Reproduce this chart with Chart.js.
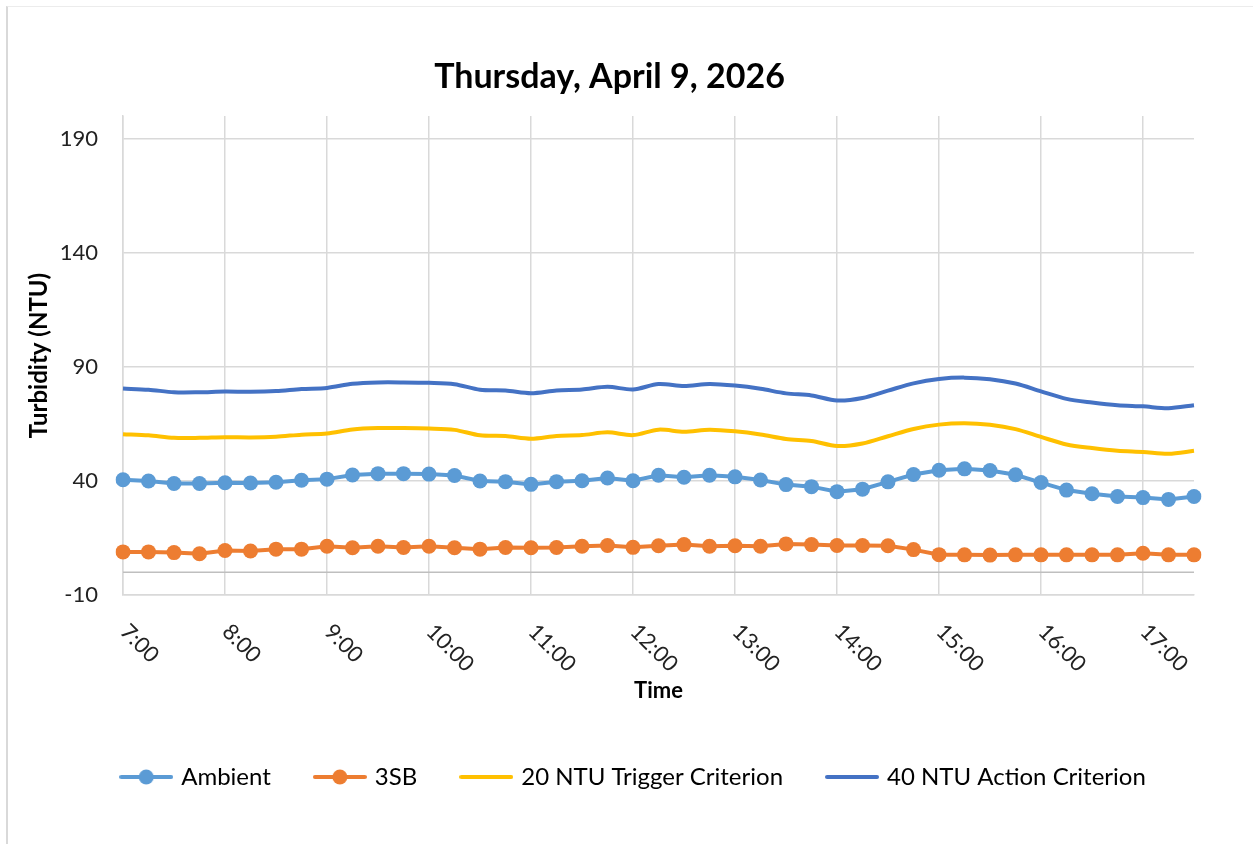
<!DOCTYPE html>
<html>
<head>
<meta charset="utf-8">
<script src="https://cdn.jsdelivr.net/npm/chart.js@4.4.1/dist/chart.umd.min.js"></script>
<style>
  html, body { margin: 0; padding: 0; background: #fff; }
  #wrap { position: relative; width: 1253px; height: 844px; }
  #frame { position: absolute; left: 6px; top: 6px; right: 0; bottom: 0;
           border-left: 2px solid #d9d9d9; border-top: 1px solid #ececec; }
  canvas { position: absolute; left: 0; top: 0; }
</style>
</head>
<body>
<div id="wrap">
  <div id="frame"></div>
  <canvas id="chartTurbidity" width="1253" height="844"></canvas>
</div>
<script>
const COLORS = {
  ambient: "#5B9BD5",
  sb3: "#ED7D31",
  trigger: "#FFC000",
  action: "#4472C4",
  grid: "#d9d9d9",
  axis: "#bfbfbf",
  text: "#222222",
};

const timeLabels = [
  "7:00", "7:15", "7:30", "7:45", "8:00", "8:15", "8:30", "8:45",
  "9:00", "9:15", "9:30", "9:45", "10:00", "10:15", "10:30", "10:45",
  "11:00", "11:15", "11:30", "11:45", "12:00", "12:15", "12:30", "12:45",
  "13:00", "13:15", "13:30", "13:45", "14:00", "14:15", "14:30", "14:45",
  "15:00", "15:15", "15:30", "15:45", "16:00", "16:15", "16:30", "16:45",
  "17:00", "17:15", "17:30"
];

const ambient = [
  40.5, 40.0, 38.9, 38.9, 39.2, 39.1, 39.4, 40.3, 40.8, 42.6, 43.2, 43.2,
  43.0, 42.4, 40.0, 39.7, 38.5, 39.7, 40.1, 41.3, 40.1, 42.5, 41.6, 42.5,
  41.8, 40.4, 38.4, 37.5, 35.3, 36.4, 39.6, 42.8, 44.7, 45.3, 44.6, 42.7,
  39.3, 36.0, 34.4, 33.2, 32.7, 31.9, 33.2
];

const sb3 = [
  8.9, 8.9, 8.6, 8.1, 9.5, 9.3, 10.1, 10.1, 11.4, 10.7, 11.4, 10.8,
  11.4, 10.7, 10.1, 10.8, 10.7, 10.8, 11.4, 11.7, 10.9, 11.6, 12.1, 11.4,
  11.6, 11.4, 12.4, 12.1, 11.7, 11.7, 11.6, 9.9, 7.7, 7.6, 7.5, 7.6,
  7.6, 7.6, 7.6, 7.6, 8.3, 7.6, 7.6
];

const triggerCriterion = [
  60.5, 60.0, 58.9, 58.9, 59.2, 59.1, 59.4, 60.3, 60.8, 62.6, 63.2, 63.2,
  63.0, 62.4, 60.0, 59.7, 58.5, 59.7, 60.1, 61.3, 60.1, 62.5, 61.6, 62.5,
  61.8, 60.4, 58.4, 57.5, 55.3, 56.4, 59.6, 62.8, 64.7, 65.3, 64.6, 62.7,
  59.3, 56.0, 54.4, 53.2, 52.7, 51.9, 53.2
];

const actionCriterion = [
  80.5, 80.0, 78.9, 78.9, 79.2, 79.1, 79.4, 80.3, 80.8, 82.6, 83.2, 83.2,
  83.0, 82.4, 80.0, 79.7, 78.5, 79.7, 80.1, 81.3, 80.1, 82.5, 81.6, 82.5,
  81.8, 80.4, 78.4, 77.5, 75.3, 76.4, 79.6, 82.8, 84.7, 85.3, 84.6, 82.7,
  79.3, 76.0, 74.4, 73.2, 72.7, 71.9, 73.2
];

const yTickValues = [-10, 40, 90, 140, 190];
const FONT = "Lato, 'Open Sans', sans-serif";

// little line+dot images for the legend
function legendSwatch(color, withDot) {
  const c = document.createElement("canvas");
  c.width = 54; c.height = 18;
  const g = c.getContext("2d");
  g.strokeStyle = color;
  g.lineWidth = 4;
  g.lineCap = "round";
  g.beginPath(); g.moveTo(2, 9); g.lineTo(52, 9); g.stroke();
  if (withDot) {
    g.fillStyle = color;
    g.beginPath(); g.arc(27, 9, 7.5, 0, Math.PI * 2); g.fill();
  }
  return c;
}

const swatches = [
  legendSwatch(COLORS.ambient, true),
  legendSwatch(COLORS.sb3, true),
  legendSwatch(COLORS.trigger, false),
  legendSwatch(COLORS.action, false),
];

// zero axis line + slanted hour labels, Excel style
const excelAxisPlugin = {
  id: "excelAxis",
  beforeDatasetsDraw(chart) {
    const { ctx, chartArea, scales } = chart;
    const y0 = scales.y.getPixelForValue(0);
    ctx.save();
    ctx.strokeStyle = COLORS.axis;
    ctx.lineWidth = 1.5;
    ctx.beginPath();
    ctx.moveTo(chartArea.left, y0);
    ctx.lineTo(chartArea.right, y0);
    ctx.stroke();
    ctx.restore();
  },
  afterDraw(chart) {
    const { ctx, chartArea, scales } = chart;
    ctx.save();
    ctx.font = "22px " + FONT;
    ctx.fillStyle = COLORS.text;
    ctx.textAlign = "left";
    ctx.textBaseline = "middle";
    timeLabels.forEach((lab, i) => {
      if (i % 4 !== 0) return;
      const x = scales.x.getPixelForValue(i);
      ctx.save();
      ctx.translate(x + 1, chartArea.bottom + 33);
      ctx.rotate(Math.PI / 4);
      ctx.fillText(lab, 0, 0);
      ctx.restore();
    });
    ctx.restore();
  },
  beforeDraw(chart) {
    if (chart.legend) {
      chart.legend.left = 75;
    }
  }
};

const canvas = document.getElementById("chartTurbidity");
new Chart(canvas, {
  type: "line",
  data: {
    labels: timeLabels,
    datasets: [
      { label: "Ambient", data: ambient, borderColor: COLORS.ambient, backgroundColor: COLORS.ambient,
        borderWidth: 4, pointRadius: 7.5, pointHoverRadius: 7.5, pointBorderWidth: 0, tension: 0, pointStyle: "circle" },
      { label: "3SB", data: sb3, borderColor: COLORS.sb3, backgroundColor: COLORS.sb3,
        borderWidth: 4, pointRadius: 7.5, pointHoverRadius: 7.5, pointBorderWidth: 0, tension: 0, pointStyle: "circle" },
      { label: "20 NTU Trigger Criterion", data: triggerCriterion, borderColor: COLORS.trigger, backgroundColor: COLORS.trigger,
        borderWidth: 4, pointRadius: 0, tension: 0.3 },
      { label: "40 NTU Action Criterion", data: actionCriterion, borderColor: COLORS.action, backgroundColor: COLORS.action,
        borderWidth: 4, pointRadius: 0, tension: 0.3 },
    ]
  },
  options: {
    responsive: false,
    animation: false,
    layout: { padding: { left: 25, right: 59, top: 0, bottom: 45 } },
    plugins: {
      title: {
        display: true,
        text: "Thursday, April 9, 2026",
        color: "#000",
        font: { family: FONT, size: 34, weight: "bold" },
        padding: { top: 56.6, bottom: 18.6 }
      },
      legend: {
        position: "bottom",
        labels: {
          color: COLORS.text,
          font: { family: FONT, size: 24 },
          usePointStyle: true,
          pointStyleWidth: 46,
          padding: 46,
          generateLabels(chart) {
            return chart.data.datasets.map((ds, i) => ({
              text: ds.label,
              pointStyle: swatches[i],
              fillStyle: ds.borderColor,
              strokeStyle: ds.borderColor,
              lineWidth: 0,
              hidden: false,
              datasetIndex: i,
            }));
          }
        }
      },
      tooltip: { enabled: false }
    },
    scales: {
      x: {
        type: "category",
        offset: false,
        ticks: { display: false, autoSkip: false },
        grid: {
          drawTicks: false,
          lineWidth: 1.5,
          color: c => (c.index % 4 === 0 ? COLORS.grid : "rgba(0,0,0,0)")
        },
        border: { color: COLORS.grid, width: 1.5 },
        title: {
          display: true,
          text: "Time",
          color: "#000",
          font: { family: FONT, size: 22, weight: "bold" },
          padding: { top: 0, bottom: 15 }
        },
        afterFit(scale) { scale.height = 124; }
      },
      y: {
        min: -10,
        max: 200,
        afterBuildTicks(scale) { scale.ticks = yTickValues.map(v => ({ value: v })); },
        ticks: {
          color: COLORS.text,
          font: { family: FONT, size: 22 },
          padding: 25
        },
        grid: { drawTicks: false, lineWidth: 1.5, color: COLORS.grid },
        border: { color: COLORS.grid, width: 1.5 },
        title: {
          display: true,
          text: "Turbidity (NTU)",
          color: "#000",
          font: { family: FONT, size: 24, weight: "bold" },
          padding: { top: 0, bottom: 0 }
        },
        afterFit(scale) { scale.width = 98; }
      }
    }
  },
  plugins: [excelAxisPlugin]
});
</script>
</body>
</html>
